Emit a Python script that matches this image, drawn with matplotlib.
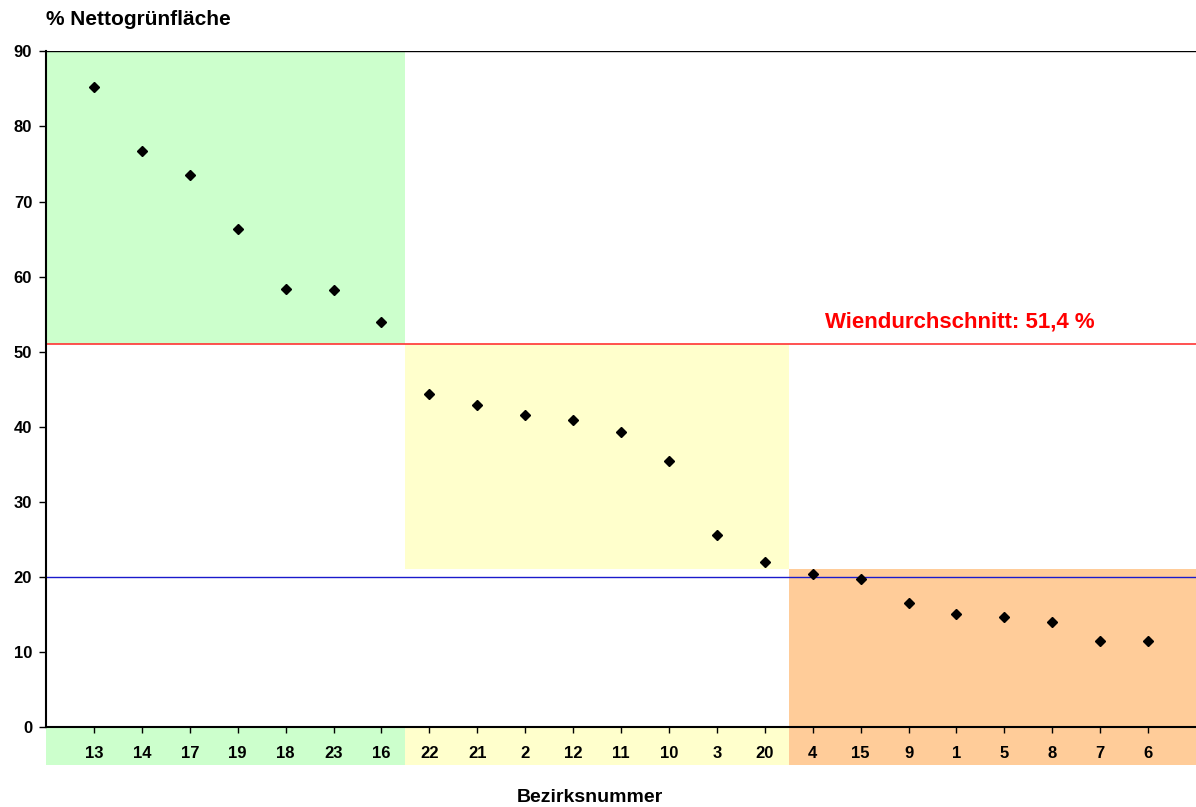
import matplotlib
matplotlib.use('Agg')
import matplotlib.pyplot as plt
from matplotlib.patches import Rectangle

plt.rcParams['font.family'] = ['Liberation Sans', 'DejaVu Sans']
plt.rcParams['font.weight'] = 'bold'

# Bezirke, sortiert nach Anteil Nettogrünfläche
bezirke = ['13', '14', '17', '19', '18', '23', '16',
           '22', '21', '2', '12', '11', '10', '3', '20',
           '4', '15', '9', '1', '5', '8', '7', '6']
gruen = [85.2, 76.7, 73.6, 66.4, 58.4, 58.2, 53.9,
         44.3, 42.9, 41.5, 40.9, 39.3, 35.5, 25.6, 22.0,
         20.4, 19.7, 16.5, 15.0, 14.6, 14.0, 11.4, 11.4]

durchschnitt = 51.0      # Lage der roten Linie
durchschnitt_txt = '51,4'
grenze_unten = 20.0      # blaue Linie

# Zonen: (x von, x bis, y von, y bis, farbe)
zonen = [(0, 7.5, 51, 90, '#ccffcc'),
         (7.5, 15.5, 21, 51, '#ffffcc'),
         (15.5, 24, 0, 21, '#ffcc99')]

fig = plt.figure(figsize=(11.96, 8.07), dpi=100)
ax = fig.add_axes([0.0385, 0.0991, 0.9615, 0.8372])

x = list(range(1, len(bezirke) + 1))

for x0, x1, y0, y1, c in zonen:
    ax.add_patch(Rectangle((x0, y0), x1 - x0, y1 - y0, facecolor=c,
                           edgecolor='none', zorder=0))
    # farbiges Band unter der Achse
    ax.add_patch(Rectangle((x0, -5.06), x1 - x0, 5.06, facecolor=c,
                           edgecolor='none', zorder=0, clip_on=False))

ax.axhline(durchschnitt, color='#ff3333', lw=1.2, zorder=1)
ax.axhline(grenze_unten, color='#1a1acc', lw=1.0, zorder=1)
ax.axhline(90, color='black', lw=1.0, zorder=1)

ax.plot(x, gruen, 'D', color='black', markersize=5.5, zorder=3)

ax.set_xlim(0, 24)
ax.set_ylim(0, 90)
ax.set_yticks(range(0, 91, 10))
ax.set_xticks(x)
ax.set_xticklabels(bezirke)
ax.tick_params(axis='y', length=5, width=1, pad=5, labelsize=12)
ax.tick_params(axis='x', length=4, width=1, pad=10, labelsize=12)

for s in ['top', 'right']:
    ax.spines[s].set_visible(False)
ax.spines['left'].set_linewidth(1.5)
ax.spines['bottom'].set_linewidth(1.5)
ax.patch.set_alpha(0)

ax.text(19.08, 54.0, 'Wiendurchschnitt: ' + durchschnitt_txt + ' %', color='red',
        fontsize=16, fontweight='bold', ha='center', va='center')

fig.text(0.0385, 0.976, '% Nettogrünfläche', fontsize=15, fontweight='bold',
         ha='left', va='center')
fig.text(0.493, 0.012, 'Bezirksnummer', fontsize=14, fontweight='bold',
         ha='center', va='center')

fig.savefig('out.png', dpi=100)
